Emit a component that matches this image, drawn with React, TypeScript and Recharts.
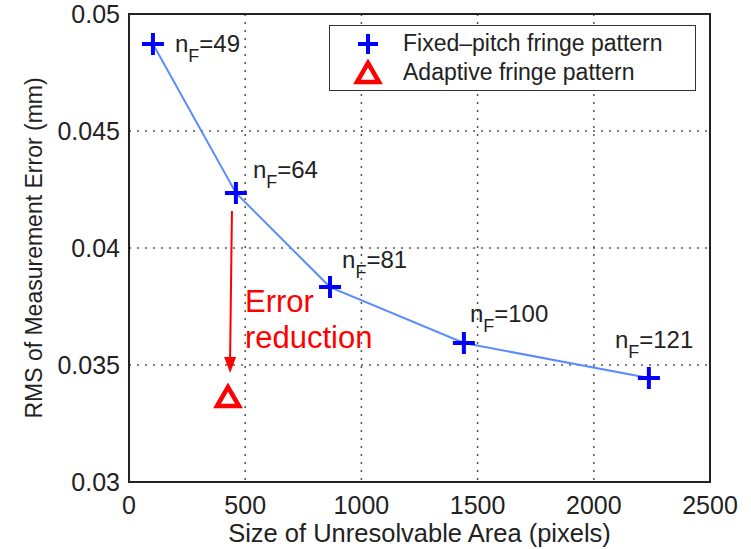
import {
  ScatterChart, Scatter, XAxis, YAxis, CartesianGrid, Legend,
  ReferenceArea, ReferenceLine, ReferenceDot
} from "recharts";

const pixelArea = [103, 460, 865, 1441, 2237];
const rmsError = [0.04872, 0.04235, 0.03833, 0.03594, 0.03444];
const fringeCount = [49, 64, 81, 100, 121];

const adaptiveArea = [426];
const adaptiveError = [0.03363];

const xTicks = [0, 500, 1000, 1500, 2000, 2500];
const yTicks = [0.03, 0.035, 0.04, 0.045, 0.05];

const FONT = '"Liberation Sans", Arial, Helvetica, sans-serif';
const BLUE = "#0000ff";
const RED = "#ff0000";

// label placement relative to each marker (px)
const labelOffsets = [[22, 8], [17, -15], [12, -19], [6, -21], [-34, -30]];

const fixedData = pixelArea.map((x, i) => ({ x, y: rmsError[i], nF: fringeCount[i] }));
const adaptiveData = adaptiveArea.map((x, i) => ({ x, y: adaptiveError[i] }));

function Cross({ cx, cy, size = 22, sw = 4 }: any) {
  const h = size / 2;
  return (
    <path
      d={`M${cx - h},${cy}H${cx + h}M${cx},${cy - h}V${cy + h}`}
      stroke={BLUE}
      strokeWidth={sw}
      fill="none"
    />
  );
}

function Tri({ cx, cy }: any) {
  return (
    <path
      d={`M${cx},${cy - 10}L${cx + 11},${cy + 9}L${cx - 11},${cy + 9}Z`}
      stroke={RED}
      strokeWidth={4.5}
      fill="#fff"
      strokeLinejoin="miter"
    />
  );
}

function FixedPoint(props: any) {
  const { cx, cy, payload } = props;
  const i = fringeCount.indexOf(payload.nF);
  const [dx, dy] = labelOffsets[i] || [10, -10];
  return (
    <g>
      <Cross cx={cx} cy={cy} />
      <text x={cx + dx} y={cy + dy} fontFamily={FONT} fontSize={24} fill="#222">
        n<tspan dy={10} fontSize={18}>F</tspan>
        <tspan dy={-10}>={payload.nF}</tspan>
      </text>
    </g>
  );
}

function LegendBox() {
  const row = (marker: any, text: string) => (
    <div style={{ display: "flex", alignItems: "center", height: 29 }}>
      <svg width={70} height={29} style={{ flex: "none" }}>{marker}</svg>
      <span style={{ marginLeft: 3 }}>{text}</span>
    </div>
  );
  return (
    <div
      style={{
        width: 367, height: 66, boxSizing: "border-box", border: "1.5px solid #333",
        background: "#fff", fontFamily: FONT, fontSize: 23, color: "#222",
        paddingTop: 3, lineHeight: 1,
      }}
    >
      {row(<Cross cx={38} cy={15} size={20} />, "Fixed\u2013pitch fringe pattern")}
      {row(<Tri cx={38} cy={15} />, "Adaptive fringe pattern")}
    </div>
  );
}

function Arrow(props: any) {
  const { x1, y1, x2, y2 } = props;
  return (
    <g>
      <line x1={x1} y1={y1} x2={x2} y2={y2 - 14} stroke={RED} strokeWidth={2} />
      <path d={`M${x2 - 6},${y2 - 16}L${x2 + 6},${y2 - 16}L${x2},${y2}Z`} fill={RED} />
    </g>
  );
}

export default function App() {
  return (
    <div style={{ position: "absolute", left: 0, top: 0, background: "#fff" }}>
      <ScatterChart
        width={751}
        height={549}
        margin={{ top: 14, right: 41, bottom: 0, left: 0 }}
      >
        <CartesianGrid stroke="#555" strokeDasharray="2 6" strokeWidth={1.5} />
        <XAxis
          type="number"
          dataKey="x"
          domain={[0, 2500]}
          ticks={xTicks}
          height={67}
          tickSize={0}
          tickMargin={14}
          axisLine={false}
          tick={{ fontFamily: FONT, fontSize: 25, fill: "#222" }}
          label={(p: any) => {
            const vb = p.viewBox;
            return (
              <text
                x={vb.x + vb.width / 2}
                y={542}
                textAnchor="middle"
                fontFamily={FONT}
                fontSize={25.5}
                fill="#222"
              >
                Size of Unresolvable Area (pixels)
              </text>
            );
          }}
        />
        <YAxis
          type="number"
          dataKey="y"
          domain={[0.03, 0.05]}
          ticks={yTicks}
          width={129}
          tickSize={0}
          tickMargin={9}
          axisLine={false}
          tickFormatter={(v: number) => String(+v.toFixed(3))}
          tick={{ fontFamily: FONT, fontSize: 25, fill: "#222" }}
          label={(p: any) => {
            const vb = p.viewBox;
            const cy = vb.y + vb.height / 2;
            return (
              <text
                x={42}
                y={cy}
                transform={`rotate(-90 42 ${cy})`}
                textAnchor="middle"
                fontFamily={FONT}
                fontSize={23}
                fill="#222"
              >
                RMS of Measurement Error (mm)
              </text>
            );
          }}
        />
        <ReferenceArea
          x1={0}
          x2={2500}
          y1={0.03}
          y2={0.05}
          fill="none"
          stroke="#222"
          strokeWidth={2}
        />
        <ReferenceLine
          segment={[{ x: 443, y: 0.04158 }, { x: 435, y: 0.03466 }]}
          shape={Arrow}
        />
        <ReferenceDot
          x={499}
          y={0.03727}
          r={0}
          shape={(p: any) => (
            <text x={p.cx} y={p.cy} fontFamily={FONT} fontSize={31} fill={RED}>
              Error
              <tspan x={p.cx} dy={36}>reduction</tspan>
            </text>
          )}
        />
        <Scatter
          data={fixedData}
          line={{ stroke: "#5b8cff", strokeWidth: 2 }}
          lineType="joint"
          shape={FixedPoint}
          isAnimationActive={false}
        />
        <Scatter
          data={adaptiveData}
          shape={Tri}
          isAnimationActive={false}
        />
        <Legend
          layout="vertical"
          align="center"
          verticalAlign="middle"
          content={() => <LegendBox />}
          wrapperStyle={{ position: "absolute", left: 329, top: 25, width: 367, height: 66 }}
        />
      </ScatterChart>
    </div>
  );
}
